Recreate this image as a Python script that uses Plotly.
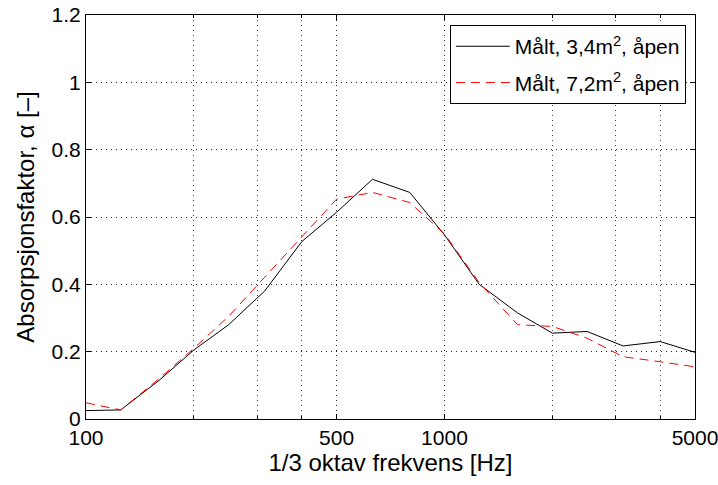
import plotly.graph_objects as go

freqs = [100, 125, 160, 200, 250, 315, 400, 500, 630, 800, 1000, 1250, 1600, 2000, 2500, 3150, 4000, 5000]
alpha_34 = [0.025, 0.027, 0.115, 0.205, 0.28, 0.38, 0.527, 0.614, 0.712, 0.673, 0.547, 0.40, 0.315, 0.255, 0.26, 0.217, 0.23, 0.198]
alpha_72 = [0.048, 0.027, 0.12, 0.21, 0.305, 0.42, 0.54, 0.653, 0.673, 0.643, 0.55, 0.405, 0.28, 0.275, 0.24, 0.185, 0.17, 0.155]
name_34 = "Målt, 3,4m<sup>2</sup>, åpen"
name_72 = "Målt, 7,2m<sup>2</sup>, åpen"
x_ticks = [100, 500, 1000, 5000]
x_minor = [200, 300, 400, 2000, 3000, 4000]
y_ticks = [0, 0.2, 0.4, 0.6, 0.8, 1, 1.2]
y_ticktext = ["0", "0.2", "0.4", "0.6", "0.8", "1", "1.2"]

font = "Liberation Sans, Arial, Helvetica, sans-serif"

fig = go.Figure()
fig.add_trace(go.Scatter(x=freqs, y=alpha_34, mode="lines", name=name_34, legendgroup="a",
                         line=dict(color="black", width=1)))
fig.add_trace(go.Scatter(x=freqs, y=alpha_72, mode="lines", name=name_72, legendgroup="b",
                         line=dict(color="#ff0000", width=1, dash="9px,6px")))

grid = dict(showgrid=True, gridcolor="rgba(0,0,0,0.85)", griddash="1px,4px", gridwidth=1)

fig.update_layout(
    width=718, height=485,
    margin=dict(l=86, r=23, t=15, b=66),
    plot_bgcolor="white", paper_bgcolor="white",
    font=dict(family=font, size=21, color="black"),
    showlegend=True,
    legend=dict(x=0.985, y=0.975, xanchor="right", yanchor="top",
                bgcolor="white", bordercolor="black", borderwidth=1,
                font=dict(size=21, family=font), traceorder="grouped",
                tracegroupgap=6, itemwidth=54),
    xaxis=dict(type="log", range=[2, 3.69897], tickvals=x_ticks,
               ticktext=[str(v) for v in x_ticks], automargin=False,
               ticklabeloverflow="allow",
               ticks="inside", ticklen=5, tickcolor="black",
               showline=True, linecolor="black", linewidth=1, mirror="ticks",
               zeroline=False,
               minor=dict(tickvals=x_minor, ticks="inside", ticklen=3, tickcolor="black",
                          showgrid=True, gridcolor="rgba(0,0,0,0.75)", griddash="1px,4px", gridwidth=1),
               title=dict(text="1/3 oktav frekvens [Hz]", font=dict(size=24), standoff=4),
               **grid),
    yaxis=dict(range=[0, 1.2], tickvals=y_ticks, ticktext=y_ticktext, automargin=False,
               ticklabeloverflow="allow",
               ticks="inside", ticklen=5, tickcolor="black",
               showline=True, linecolor="black", linewidth=1, mirror="ticks",
               zeroline=False,
               title=dict(text="Absorpsjonsfaktor, α [–]", font=dict(size=24), standoff=10),
               **grid),
)

fig.write_html("out.html")
